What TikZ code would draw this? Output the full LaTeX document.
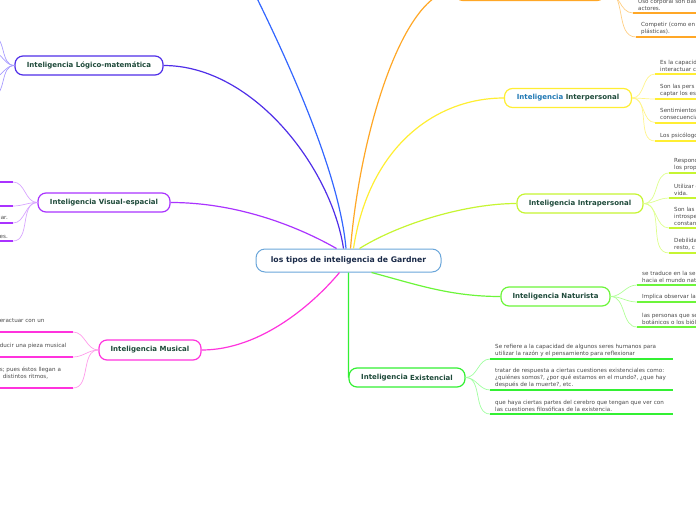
\documentclass[tikz,border=0pt]{standalone}
\usepackage{fontspec}
\setmainfont{DejaVu Sans}
\usetikzlibrary{positioning}

\definecolor{verdetexto}{HTML}{1E4A3A}
\definecolor{grishoja}{HTML}{4A4A4A}
\definecolor{azulnoche}{HTML}{1A2A48}
\definecolor{azulcentro}{HTML}{6AA6DA}
\definecolor{azulpalabra}{HTML}{1F78B4}
\definecolor{cLogico}{HTML}{4F2EE8}
\definecolor{cLogicoClaro}{HTML}{A89CFF}
\definecolor{cAzul}{HTML}{3366FF}
\definecolor{cNaranja}{HTML}{FFA726}
\definecolor{cNaranjaClaro}{HTML}{FFCF85}
\definecolor{cAmarillo}{HTML}{FFEE33}
\definecolor{cAmarilloClaro}{HTML}{FFF48A}
\definecolor{cLima}{HTML}{C6F532}
\definecolor{cLimaClaro}{HTML}{DDFF8C}
\definecolor{cNatur}{HTML}{6CF53A}
\definecolor{cNaturClaro}{HTML}{B0FF96}
\definecolor{cExist}{HTML}{33F033}
\definecolor{cExistClaro}{HTML}{A0FFA0}
\definecolor{cVisual}{HTML}{AA33FF}
\definecolor{cVisualClaro}{HTML}{D8A6FF}
\definecolor{cMusical}{HTML}{FF33DD}
\definecolor{cMusicalClaro}{HTML}{FF9CEB}

\tikzset{
  raiz/.style={draw=azulcentro, line width=1pt, rounded corners=9pt, fill=white, minimum width=185pt, minimum height=23pt, inner sep=0pt, text=azulnoche, font=\fontsize{7.7}{9}\selectfont\bfseries},
  rama/.style={draw=#1, line width=1.2pt, rounded corners=8pt, fill=white, minimum height=19pt, inner sep=0pt, text=verdetexto, font=\fontsize{7}{8}\selectfont\bfseries},
  enlace/.style={draw=#1, line width=1.2pt},
  ramita/.style={draw=#1, line width=0.7pt},
  barra/.style={draw=#1, line width=2pt},
  hoja/.style={anchor=south west, align=left, inner xsep=5pt, inner ysep=2.5pt, text=grishoja, font=\fontsize{5.6}{7}\selectfont},
  hojaizq/.style={hoja, anchor=south east}
}

\begin{document}
\begin{tikzpicture}[x=1pt,y=-1pt]
  \useasboundingbox (0,0) rectangle (696,520);
  \clip (0,0) rectangle (696,520);

  % nodo central
  \node[raiz] (centro) at (348.5,260.5) {los tipos de inteligencia de Gardner};

  % ramas
  \node[rama=cLogico, minimum width=148pt] (logico) at (89,65.5) {Inteligencia Lógico-matemática};
  \node[rama=cVisual, minimum width=132pt] (visual) at (104,202.5) {Inteligencia Visual-espacial};
  \node[rama=cMusical, minimum width=102pt, minimum height=20pt] (musical) at (150,350) {Inteligencia Musical};
  \node[rama=cAmarillo, minimum width=127pt] (inter) at (568,98) {{\color{azulpalabra}Inteligencia} Interpersonal};
  \node[rama=cLima, minimum width=126pt] (intra) at (580,203.5) {Inteligencia Intrapersonal};
  \node[rama=cNatur, minimum width=109pt] (natur) at (555.5,296.5) {Inteligencia Naturista};
  \node[rama=cExist, minimum width=116pt] (exist) at (407,377.5) {\raisebox{1.2pt}{Inteligencia} Existencial};
  \node[rama=cNaranja, minimum width=150pt, minimum height=20pt] (corporal) at (530,-9.5) {}; % fuera del borde
  \coordinate (linguistica) at (238,-40); % fuera del borde

  % enlaces del centro
  \draw[enlace=cAzul] ([xshift=-2.5pt]centro.north) .. controls +(-8,-90) and +(30,60) .. (linguistica);
  \draw[enlace=cLogico] ([xshift=-5pt]centro.north) .. controls +(-12,-80) and +(90,0) .. (logico.east);
  \draw[enlace=cVisual] ([xshift=-12pt]centro.north) .. controls +(-35,-20) and +(70,0) .. (visual.east);
  \draw[enlace=cNaranja] ([xshift=2pt]centro.north) .. controls +(10,-120) and +(-50,0) .. (corporal.west);
  \draw[enlace=cAmarillo] ([xshift=5pt]centro.north) .. controls +(15,-100) and +(-70,0) .. (inter.west);
  \draw[enlace=cLima] ([xshift=11pt]centro.north) .. controls +(40,-25) and +(-50,0) .. (intra.west);
  \draw[enlace=cNatur] ([xshift=23pt]centro.south) .. controls +(45,12) and +(-50,0) .. (natur.west);
  \draw[enlace=cExist] (centro.south) -- (exist.west);
  \draw[enlace=cMusical] ([xshift=-9pt]centro.south) .. controls +(-25,30) and +(60,0) .. (musical.east);

  % hojas Lógico-matemática (fuera del borde)
  \coordinate (l1) at (-8,36);
  \coordinate (l2) at (-8,52);
  \coordinate (l3) at (-8,78);
  \coordinate (l4) at (-8,96);
  \draw[ramita=cLogicoClaro] (logico.west) to[out=180,in=0] (l1);
  \draw[ramita=cLogicoClaro] (logico.west) to[out=180,in=0] (l2);
  \draw[ramita=cLogicoClaro] (logico.west) to[out=180,in=0] (l3);
  \draw[ramita=cLogicoClaro] (logico.west) to[out=180,in=0] (l4);

  % hojas Visual-espacial
  \node[hojaizq] (v1) at (13,182) {};
  \node[hojaizq] (v2) at (13,206) {};
  \node[hojaizq, align=right] (v3) at (13,223) {jar.};
  \node[hojaizq, align=right] (v4) at (13,241) {es.};
  \draw[ramita=cVisualClaro] (visual.west) to[out=180,in=0] (v1.south east);
  \draw[ramita=cVisualClaro] (visual.west) to[out=180,in=0] (v2.south east);
  \draw[ramita=cVisualClaro] (visual.west) to[out=180,in=0] (v3.south east);
  \draw[ramita=cVisualClaro] (visual.west) to[out=180,in=0] (v4.south east);
  \draw[barra=cVisual] (v1.south east) -- ++(-30,0);
  \draw[barra=cVisual] (v2.south east) -- ++(-30,0);
  \draw[barra=cVisual] (v3.south east) -- ++(-30,0);
  \draw[barra=cVisual] (v4.south east) -- ++(-30,0);

  % hojas Musical
  \node[hojaizq, text width=68pt] (m1) at (73,332) {eractuar con un\\\mbox{}};
  \node[hojaizq, text width=68pt] (m2) at (73,357) {ducir una pieza musical\\\mbox{}};
  \node[hojaizq, text width=68pt] (m3) at (73,388) {s; pues éstos llegan a\\\hspace*{3pt}distintos ritmos,\\\mbox{}};
  \draw[ramita=cMusicalClaro] (musical.west) to[out=180,in=0] (m1.south east);
  \draw[ramita=cMusicalClaro] (musical.west) to[out=180,in=0] (m2.south east);
  \draw[ramita=cMusicalClaro] (musical.west) to[out=180,in=0] (m3.south east);
  \draw[barra=cMusical] (m1.south east) -- (m1.south west);
  \draw[barra=cMusical] (m2.south east) -- (m2.south west);
  \draw[barra=cMusical] (m3.south east) -- (m3.south west);

  % hojas Corporal (arriba)
  \node[hoja] (k1) at (633,13) {Uso corporal son bas\\actores.};
  \node[hoja] (k2) at (636,37) {Competir (como en l\\plásticas).};
  \draw[ramita=cNaranjaClaro] (corporal.east) to[out=0,in=180] (k1.south west);
  \draw[ramita=cNaranjaClaro] (corporal.east) to[out=0,in=180] (k2.south west);
  \draw[barra=cNaranja] (k1.south west) -- ++(100,0);
  \draw[barra=cNaranja] (k2.south west) -- ++(100,0);

  % hojas Interpersonal
  \node[hoja] (i1) at (655,74) {Es la capacid\\interactuar c};
  \node[hoja] (i2) at (655,99) {Son las pers\\captar los es};
  \node[hoja] (i3) at (655,122.5) {Sentimientos\\consecuencia};
  \node[hoja] (i4) at (655,141) {Los psicólogo};
  \draw[ramita=cAmarilloClaro] (inter.east) to[out=0,in=180] (i1.south west);
  \draw[ramita=cAmarilloClaro] (inter.east) to[out=0,in=180] (i2.south west);
  \draw[ramita=cAmarilloClaro] (inter.east) to[out=0,in=180] (i3.south west);
  \draw[ramita=cAmarilloClaro] (inter.east) to[out=0,in=180] (i4.south west);
  \draw[barra=cAmarillo] (i1.south west) -- ++(100,0);
  \draw[barra=cAmarillo] (i2.south west) -- ++(100,0);
  \draw[barra=cAmarillo] (i3.south west) -- ++(100,0);
  \draw[barra=cAmarillo] (i4.south west) -- ++(100,0);

  % hojas Intrapersonal
  \node[hoja] (t1) at (669,173) {Respond\\los prop};
  \node[hoja] (t2) at (669,198) {Utilizar e\\vida.};
  \node[hoja] (t3) at (669,228) {Son las\\introspe\\constant};
  \node[hoja] (t4) at (669,253) {Debilida\\resto, c};
  \draw[ramita=cLimaClaro] (intra.east) to[out=0,in=180] (t1.south west);
  \draw[ramita=cLimaClaro] (intra.east) to[out=0,in=180] (t2.south west);
  \draw[ramita=cLimaClaro] (intra.east) to[out=0,in=180] (t3.south west);
  \draw[ramita=cLimaClaro] (intra.east) to[out=0,in=180] (t4.south west);
  \draw[barra=cLima] (t1.south west) -- ++(100,0);
  \draw[barra=cLima] (t2.south west) -- ++(100,0);
  \draw[barra=cLima] (t3.south west) -- ++(100,0);
  \draw[barra=cLima] (t4.south west) -- ++(100,0);

  % hojas Naturista
  \node[hoja] (n1) at (637,285) {se traduce en la sen\\hacia el mundo natu};
  \node[hoja] (n2) at (637,302) {Implica observar la n};
  \node[hoja] (n3) at (637,327) {las personas que se\\botánicos o los biólo};
  \draw[ramita=cNaturClaro] (natur.east) to[out=0,in=180] (n1.south west);
  \draw[ramita=cNaturClaro] (natur.east) to[out=0,in=180] (n2.south west);
  \draw[ramita=cNaturClaro] (natur.east) to[out=0,in=180] (n3.south west);
  \draw[barra=cNatur] (n1.south west) -- ++(100,0);
  \draw[barra=cNatur] (n2.south west) -- ++(100,0);
  \draw[barra=cNatur] (n3.south west) -- ++(100,0);

  % hojas Existencial
  \node[hoja] (e1) at (490,359) {Se refiere a la capacidad de algunos seres humanos para\\utilizar la razón y el pensamiento para reflexionar};
  \node[hoja] (e2) at (490,390) {tratar de respuesta a ciertas cuestiones existenciales como:\\¿quiénes somos?, ¿por qué estamos en el mundo?, ¿que hay\\después de la muerte?, etc.};
  \node[hoja] (e3) at (490,414) {que haya ciertas partes del cerebro que tengan que ver con\\las cuestiones filosóficas de la existencia.};
  \draw[ramita=cExistClaro] (exist.east) to[out=0,in=180] (e1.south west);
  \draw[ramita=cExistClaro] (exist.east) to[out=0,in=180] (e2.south west);
  \draw[ramita=cExistClaro] (exist.east) to[out=0,in=180] (e3.south west);
  \draw[barra=cExist] (e1.south west) -- ++(183,0);
  \draw[barra=cExist] (e2.south west) -- ++(183,0);
  \draw[barra=cExist] (e3.south west) -- ++(183,0);
\end{tikzpicture}
\end{document}
